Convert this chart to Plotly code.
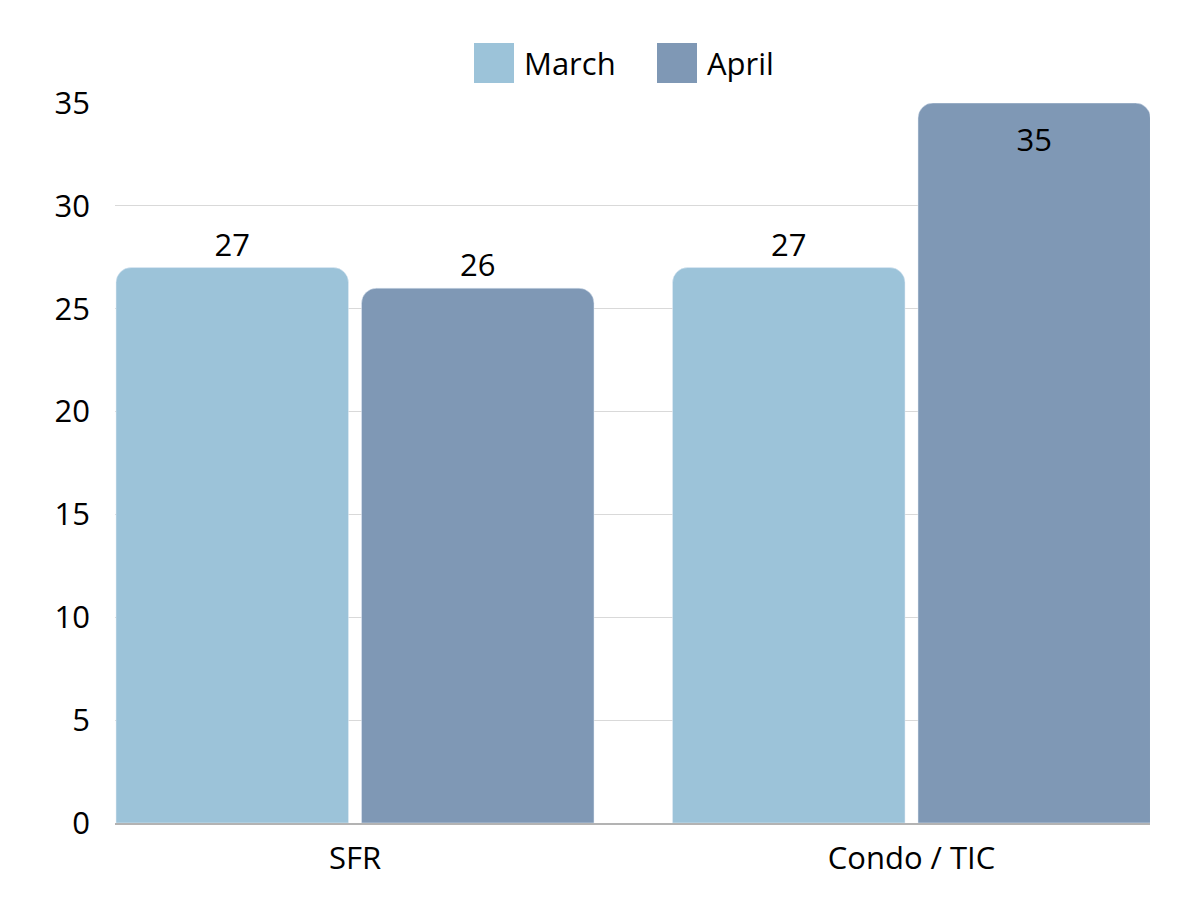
import plotly.graph_objects as go

categories = ["SFR", "Condo / TIC"]
series_names = ["March", "April"]
march_values = [27, 27]
april_values = [26, 35]
y_ticks = [0, 5, 10, 15, 20, 25, 30, 35]

colors = {"March": "#9cc3d9", "April": "#7f98b5"}
FONT = "Open Sans"
FS = 31

x_pos = list(range(len(categories)))

fig = go.Figure()
fig.add_trace(go.Bar(
    x=x_pos, y=march_values, name="March", marker_color=colors["March"],
    text=[str(v) for v in march_values], textposition="outside",
    textfont=dict(size=FS, color="#000000", family=FONT),
    showlegend=False,
))
fig.add_trace(go.Bar(
    x=x_pos, y=april_values, name="April", marker_color=colors["April"],
    text=[str(v) for v in april_values],
    textposition=["outside" if v < 33 else "inside" for v in april_values],
    insidetextanchor="end",
    textfont=dict(size=FS, color="#000000", family=FONT),
    showlegend=False,
))

# Page body has an 8px default margin; compensate so the plot area lands at x 115-1150, y 103-823
L, T, R, B = 107, 95, 58, 85
PW = 1200 - L - R
PH = 900 - T - B

fig.update_layout(
    width=1200, height=900,
    margin=dict(l=L, r=R, t=T, b=B, autoexpand=False),
    paper_bgcolor="white", plot_bgcolor="white",
    barmode="group", bargap=0.1177, bargroupgap=0.053,
    barcornerradius=15,
    font=dict(family=FONT, size=FS, color="#000000"),
    xaxis=dict(
        tickmode="array", tickvals=x_pos, ticktext=categories,
        range=[-0.4313, 1.4286], showgrid=False, zeroline=False,
        showline=True, linecolor="#b3b3b3", linewidth=2,
        ticks="", tickfont=dict(size=FS, family=FONT, color="#000000"),
        ticklabelstandoff=7, automargin=False,
    ),
    yaxis=dict(
        range=[0, 35], tickvals=y_ticks, showgrid=True, gridcolor="#d9d9d9",
        gridwidth=1, zeroline=False, showline=False, ticks="",
        tickfont=dict(size=FS, family=FONT, color="#000000"), ticklabelstandoff=24,
        automargin=False,
    ),
)

# Custom legend (large square swatches) in paper coordinates; target page pixels
legend_items = [("March", 474), ("April", 657)]
shapes = []
annotations = []
for name, px in legend_items:
    fx = px - 8 - L
    y_top = 43 - 8
    y_bot = 83 - 8
    shapes.append(dict(type="rect", xref="paper", yref="paper",
                       x0=fx / PW, x1=(fx + 40) / PW,
                       y0=(PH - (y_bot - T)) / PH, y1=(PH - (y_top - T)) / PH,
                       fillcolor=colors[name], line=dict(width=0)))
    annotations.append(dict(text=name, xref="paper", yref="paper", x=(fx + 48) / PW,
                            y=(PH - (63 - 8 - T)) / PH, xanchor="left", yanchor="middle",
                            showarrow=False, font=dict(size=FS, family=FONT, color="#000000")))
fig.update_layout(shapes=shapes, annotations=annotations)

fig.write_html("out.html")
